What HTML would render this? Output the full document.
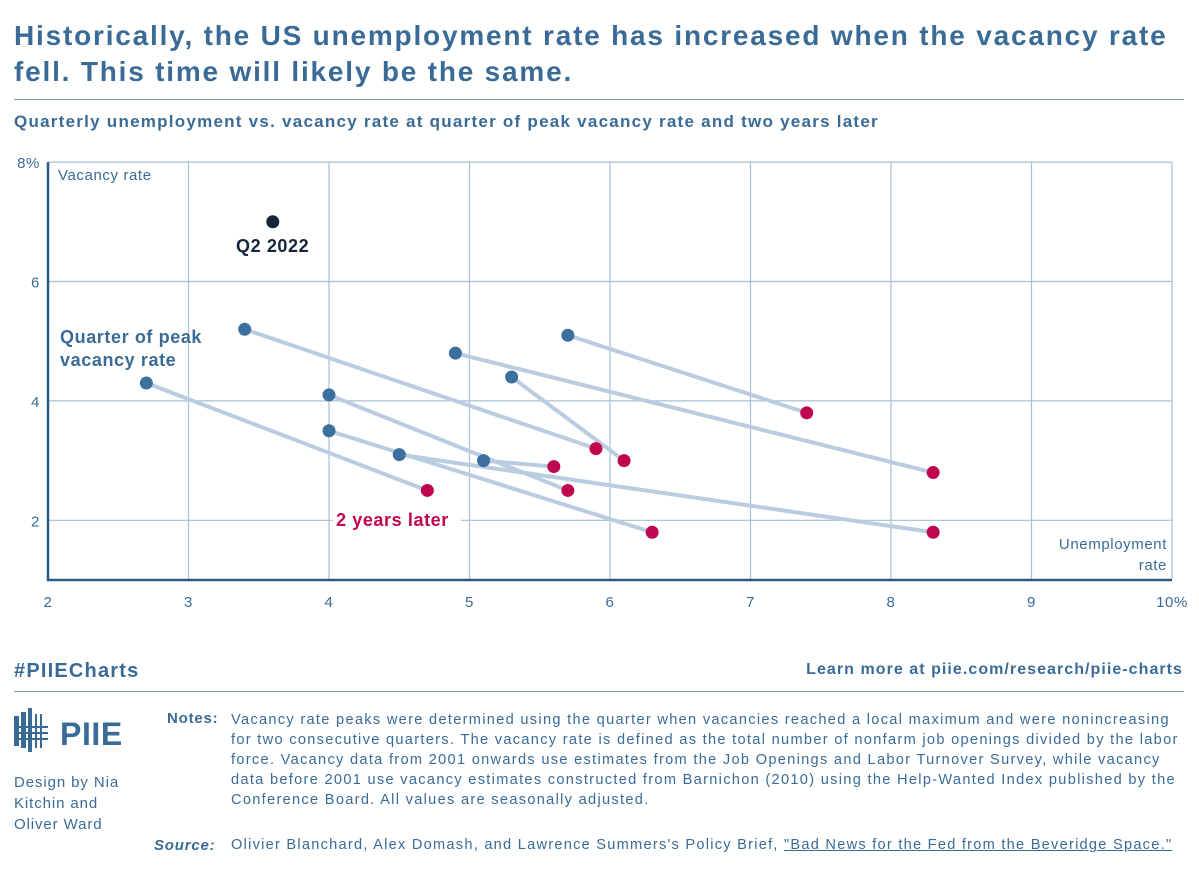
<!DOCTYPE html>
<html><head><meta charset="utf-8"><style>
body{margin:0;width:1199px;height:879px;background:#fff;font-family:"Liberation Sans",sans-serif;position:relative;overflow:hidden;color:#3a6b96}
.abs{position:absolute;white-space:nowrap}
svg text{letter-spacing:0.6px}
</style></head><body>
<div class="abs" style="left:14px;top:18px;font-size:28px;font-weight:bold;line-height:36px;letter-spacing:1.8px;color:#3a6b96">Historically, the US unemployment rate has increased when the vacancy rate<br>fell. This time will likely be the same.</div>
<div class="abs" style="left:14px;top:99px;width:1170px;height:1px;background:#7f9fbf"></div>
<div class="abs" style="left:14px;top:112px;font-size:17px;font-weight:bold;letter-spacing:1.25px;color:#3a6b96">Quarterly unemployment vs. vacancy rate at quarter of peak vacancy rate and two years later</div>
<svg class="abs" style="left:0;top:0" width="1199" height="640">
<g id="grid"></g><g id="lines"></g><g id="dots"></g><g id="labels"></g>
</svg>
<div class="abs" style="left:14px;top:660px;font-size:20px;font-weight:bold;letter-spacing:1.2px">#PIIECharts</div>
<div class="abs" style="right:16px;top:661px;font-size:16px;font-weight:bold;letter-spacing:1.05px">Learn more at piie.com/research/piie-charts</div>
<div class="abs" style="left:14px;top:691px;width:1170px;height:1px;background:#7f9fbf"></div>
<div class="abs" style="left:14px;top:708px;width:115px;height:48px">
<svg width="115" height="48"><g fill="#3a6b96"><rect x="0" y="8" width="5" height="30"/><rect x="7" y="4" width="5" height="36"/><rect x="14" y="0" width="4" height="44"/><rect x="21" y="6" width="2" height="34"/><rect x="26" y="6" width="2" height="34"/><rect x="0" y="18" width="34" height="2"/><rect x="0" y="24" width="34" height="2"/><rect x="0" y="30" width="34" height="2"/></g>
<text x="46" y="37" font-size="32" font-weight="bold" fill="#3a6b96" font-family="Liberation Sans">PIIE</text></svg></div>
<div class="abs" style="left:14px;top:772px;font-size:15px;line-height:21px;letter-spacing:0.9px;color:#3a6b96">Design by Nia<br>Kitchin and<br>Oliver Ward</div>
<div class="abs" style="left:167px;top:710px;font-size:15px;font-weight:bold;letter-spacing:0.8px">Notes:</div>
<div class="abs" style="left:231px;top:710px;font-size:14.6px;line-height:20px;letter-spacing:1.3px;color:#3a6b96">Vacancy rate peaks were determined using the quarter when vacancies reached a local maximum and were nonincreasing<br>for two consecutive quarters. The vacancy rate is defined as the total number of nonfarm job openings divided by the labor<br>force. Vacancy data from 2001 onwards use estimates from the Job Openings and Labor Turnover Survey, while vacancy<br>data before 2001 use vacancy estimates constructed from Barnichon (2010) using the Help-Wanted Index published by the<br>Conference Board. All values are seasonally adjusted.</div>
<div class="abs" style="left:154px;top:837px;font-size:15px;font-weight:bold;font-style:italic;letter-spacing:0.8px">Source:</div>
<div class="abs" style="left:231px;top:837px;font-size:14.6px;letter-spacing:1.25px">Olivier Blanchard, Alex Domash, and Lawrence Summers's Policy Brief, <span style="text-decoration:underline">"Bad News for the Fed from the Beveridge Space."</span></div>
<script>
const xTicks=[2,3,4,5,6,7,8,9,10];
const xTickLabels=["2","3","4","5","6","7","8","9","10%"];
const yTicks=[2,4,6,8];
const yTickLabels=["2","4","6","8%"];
const peakU=[2.7,3.4,4.0,4.0,4.5,4.9,5.1,5.3,5.7];
const peakV=[4.3,5.2,4.1,3.5,3.1,4.8,3.0,4.4,5.1];
const laterU=[4.7,5.9,5.7,6.3,8.3,8.3,5.6,6.1,7.4];
const laterV=[2.5,3.2,2.5,1.8,1.8,2.8,2.9,3.0,3.8];
const currentU=[3.6];
const currentV=[7.0];
const NS="http://www.w3.org/2000/svg";
const X=v=>48+(v-2)*140.5;
const Y=v=>580-(v-1)*59.7;
function mk(g,t,a){const e=document.createElementNS(NS,t);for(const k in a)e.setAttribute(k,a[k]);document.getElementById(g).appendChild(e);return e;}
xTicks.forEach((t,i)=>{
 if(i>0){const l=mk('grid','line',{x1:X(t),x2:X(t),y1:Y(8),y2:Y(1),stroke:'#a9bfd4','stroke-width':1.2});
 
 }
 const tx=mk('labels','text',{x:X(t),y:607,'text-anchor':'middle','font-size':15,fill:'#3a6b96'});
 tx.textContent=xTickLabels[i];
 
 
});
yTicks.forEach((t,i)=>{
 const l=mk('grid','line',{x1:X(2),x2:X(10),y1:Y(t),y2:Y(t),stroke:'#a9bfd4','stroke-width':1.2});
 
 
 const tx=mk('labels','text',{x:40,y:Y(t)+6,'text-anchor':'end','font-size':15,fill:'#3a6b96'});
 tx.textContent=yTickLabels[i];
 
 
});
const ax=mk('grid','path',{d:`M${X(2)} ${Y(8)}V${Y(1)}H${X(10)}`,stroke:'#2c5a85','stroke-width':2.5,fill:'none'});


peakU.forEach((u,i)=>{
 const l=mk('lines','line',{x1:X(u),y1:Y(peakV[i]),x2:X(laterU[i]),y2:Y(laterV[i]),stroke:'#b9cce0','stroke-width':4});
 
 
});
peakU.forEach((u,i)=>{
 const c=mk('dots','circle',{cx:X(u),cy:Y(peakV[i]),r:6.5,fill:'#3a6f9e'});
 
 
 const d=mk('dots','circle',{cx:X(laterU[i]),cy:Y(laterV[i]),r:6.5,fill:'#c0064f'});
 
 
});
currentU.forEach((u,i)=>{
 const c=mk('dots','circle',{cx:X(u),cy:Y(currentV[i]),r:6.5,fill:'#14253a'});
 
 
});
function lab(x,y,s,txt,fill,bold,anchor,name){const t=mk('labels','text',{x:x,y:y,'font-size':s,fill:fill,'font-weight':bold?'bold':'normal','text-anchor':anchor||'start'});t.textContent=txt;


return t;}
lab(58,180,15,'Vacancy rate','#3a6b96',false,'start','y-axis-title');
lab(1167,549,15,'Unemployment','#3a6b96',false,'end','x-axis-title');
lab(1167,570,15,'rate','#3a6b96',false,'end','x-axis-title-2');
lab(236,252,18,'Q2 2022','#14253a',true,'start','current-label');
lab(60,343,18,'Quarter of peak','#3a6b96',true,'start','peak-label');
lab(60,366,18,'vacancy rate','#3a6b96',true,'start','peak-label-2');
const bg=mk('labels','rect',{x:333,y:507,width:128,height:22,fill:'#fff'});


lab(336,526,18,'2 years later','#c0064f',true,'start','later-label');
</script>
</body></html>
